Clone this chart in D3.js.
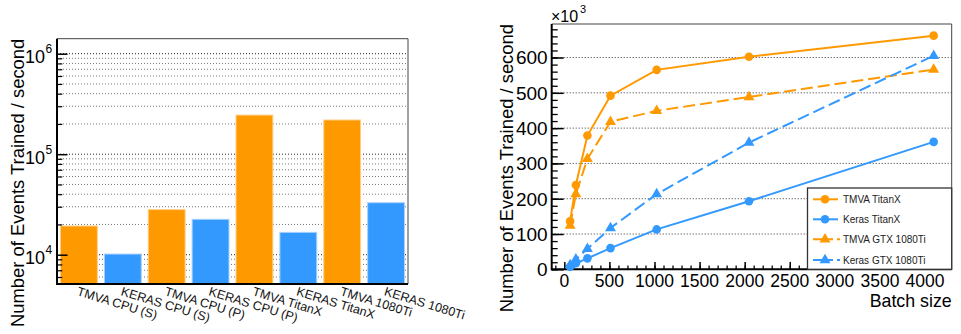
<!DOCTYPE html>
<html>
<head>
<meta charset="utf-8">
<script src="https://cdn.jsdelivr.net/npm/d3@7"></script>
<style>
  body { margin: 0; background: #fff; }
  svg { display: block; font-family: "Liberation Sans", Arial, Helvetica, sans-serif; }
  .domain { display: none; }
</style>
</head>
<body>
<div id="chart"></div>
<script>
// bar chart data (events / second)
let barCategories = ["TMVA CPU (S)", "KERAS CPU (S)", "TMVA CPU (P)", "KERAS CPU (P)",
                     "TMVA TitanX", "KERAS TitanX", "TMVA 1080Ti", "KERAS 1080Ti"];
let barValues = [19300, 10150, 28100, 22500, 245000, 16700, 219000, 32900];
let barColors = ["#ff9900", "#3399ff", "#ff9900", "#3399ff", "#ff9900", "#3399ff", "#ff9900", "#3399ff"];
let barDecades = [4, 5, 6];

// line chart data (x10^3 events / second)
let batchSizes = [64, 128, 256, 512, 1024, 2048, 4096];
let tmvaTitanX = [136, 239, 379, 492, 565, 602, 662];
let kerasTitanX = [7, 17, 31, 60, 113, 193, 361];
let tmvaGTX = [124, 213, 313, 418, 449, 488, 566];
let kerasGTX = [12, 28, 58, 117, 213, 359, 605];
let seriesNames = ["TMVA TitanX", "Keras TitanX", "TMVA GTX 1080Ti", "Keras GTX 1080Ti"];
let xTickValues = [0, 500, 1000, 1500, 2000, 2500, 3000, 3500, 4000];
let yTickValues = [0, 100, 200, 300, 400, 500, 600];

const orange = "#ff9900", blue = "#3399ff";

let svg = d3.select("#chart").append("svg")
    .attr("width", 961)
    .attr("height", 334);

// ---------------- left: log bar chart ----------------
let L = { left: 57, right: 408, top: 38.7, bottom: 284 };

let xb = d3.scaleBand()
    .domain(barCategories)
    .range([L.left, L.right])
    .paddingInner(0.16)
    .paddingOuter(0.08);

let yb = d3.scaleLog()
    .domain([5110, 1.41e6])
    .range([L.bottom, L.top]);

let gL = svg.append("g");

// grid at every 1..9 x decade
let logTicks = [];
for (let e = 3; e <= 6; e++) {
    for (let m = 1; m <= 9; m++) {
        let v = m * Math.pow(10, e);
        if (v >= 5110 && v <= 1.41e6) logTicks.push(v);
    }
}
let isDecade = d => barDecades.includes(Math.round(Math.log10(d) * 1000) / 1000);

gL.selectAll(".grid")
    .data(logTicks)
    .enter()
    .append("line")
    .attr("x1", L.left).attr("x2", L.right)
    .attr("y1", d => yb(d)).attr("y2", d => yb(d))
    .attr("stroke", d => isDecade(d) ? "#222" : "#777")
    .attr("stroke-width", 1)
    .attr("stroke-dasharray", "1,2");

// bars
gL.selectAll(".bar")
    .data(barValues)
    .enter()
    .append("rect")
    .attr("x", (d, i) => xb(barCategories[i]))
    .attr("width", xb.bandwidth())
    .attr("y", d => yb(d))
    .attr("height", d => L.bottom - yb(d))
    .attr("fill", (d, i) => barColors[i])
    .attr("stroke", (d, i) => i % 2 ? "#a9d2ff" : "#ffd08a")
    .attr("stroke-width", 1);

// y ticks (inward)
gL.append("g")
    .attr("transform", "translate(" + L.left + ",0)")
    .call(d3.axisLeft(yb).tickValues(logTicks.filter(d => !isDecade(d))).tickSize(-5.3).tickFormat(""))
    .selectAll("line").attr("stroke", "#000").attr("stroke-width", 1.2);
gL.append("g")
    .attr("transform", "translate(" + L.left + ",0)")
    .call(d3.axisLeft(yb).tickValues(barDecades.map(e => Math.pow(10, e))).tickSize(-10.5).tickFormat(""))
    .selectAll("line").attr("stroke", "#000").attr("stroke-width", 1.5);

// y labels 10^n
barDecades.forEach(function (e) {
    let yy = yb(Math.pow(10, e));
    gL.append("text")
        .attr("x", 45).attr("y", yy + 9.5)
        .attr("text-anchor", "end")
        .attr("font-size", 18)
        .text("10");
    gL.append("text")
        .attr("x", 45.5).attr("y", yy - 0.5)
        .attr("font-size", 12)
        .text(e);
});

// frame
gL.append("line").attr("x1", L.left).attr("x2", L.right).attr("y1", L.top).attr("y2", L.top)
    .attr("stroke", "#444").attr("stroke-width", 1);
gL.append("line").attr("x1", L.right).attr("x2", L.right).attr("y1", L.top).attr("y2", L.bottom)
    .attr("stroke", "#444").attr("stroke-width", 1);
gL.append("line").attr("x1", L.left).attr("x2", L.left).attr("y1", L.top).attr("y2", L.bottom + 1)
    .attr("stroke", "#000").attr("stroke-width", 2);
gL.append("line").attr("x1", L.left).attr("x2", L.right).attr("y1", L.bottom).attr("y2", L.bottom)
    .attr("stroke", "#000").attr("stroke-width", 2);

// rotated category labels
gL.selectAll(".xlab")
    .data(barCategories)
    .enter()
    .append("text")
    .attr("transform", d => "translate(" + (xb(d) + xb.bandwidth() / 2) + "," + (L.bottom + 2.5) + ") rotate(17)")
    .attr("dy", "0.72em")
    .attr("font-size", 12.5)
    .attr("fill", "#111")
    .text(d => d);

// y title
gL.append("text")
    .attr("transform", "translate(24," + L.top + ") rotate(-90)")
    .attr("text-anchor", "end")
    .attr("font-size", 18.4)
    .text("Number of Events Trained / second");

// ---------------- right: line chart ----------------
let R = { left: 551.7, right: 951.7, top: 24, bottom: 269.3 };

let x = d3.scaleLinear().domain([-140, 4296]).range([R.left, R.right]);
let y = d3.scaleLinear().domain([0, 695]).range([R.bottom, R.top]);

let gR = svg.append("g");

// grid
gR.selectAll(".grid")
    .data(yTickValues.slice(1))
    .enter()
    .append("line")
    .attr("x1", R.left).attr("x2", R.right)
    .attr("y1", d => y(d)).attr("y2", d => y(d))
    .attr("stroke", "#333")
    .attr("stroke-dasharray", "1,2");

// ticks
gR.append("g")
    .attr("transform", "translate(" + R.left + ",0)")
    .call(d3.axisLeft(y).tickValues(d3.range(0, 695, 20)).tickSize(-6).tickFormat(""))
    .selectAll("line").attr("stroke", "#000").attr("stroke-width", 1.3);
gR.append("g")
    .attr("transform", "translate(" + R.left + ",0)")
    .call(d3.axisLeft(y).tickValues(yTickValues).tickSize(-12).tickFormat(""))
    .selectAll("line").attr("stroke", "#000").attr("stroke-width", 1.5);
gR.append("g")
    .attr("transform", "translate(0," + R.bottom + ")")
    .call(d3.axisBottom(x).tickValues(d3.range(-100, 4296, 100)).tickSize(-3.7).tickFormat(""))
    .selectAll("line").attr("stroke", "#000").attr("stroke-width", 1.3);
gR.append("g")
    .attr("transform", "translate(0," + R.bottom + ")")
    .call(d3.axisBottom(x).tickValues(xTickValues).tickSize(-7.4).tickFormat(""))
    .selectAll("line").attr("stroke", "#000").attr("stroke-width", 1.5);

// tick labels
gR.selectAll(".ylab")
    .data(yTickValues)
    .enter()
    .append("text")
    .attr("x", R.left - 4)
    .attr("y", d => y(d))
    .attr("dy", "0.36em")
    .attr("text-anchor", "end")
    .attr("font-size", 19)
    .text(d => d);
gR.selectAll(".xlab")
    .data(xTickValues)
    .enter()
    .append("text")
    .attr("x", d => x(d))
    .attr("y", 287)
    .attr("text-anchor", "middle")
    .attr("font-size", 17.5)
    .text(d => d);

// x10^3 multiplier
gR.append("text").attr("x", 551).attr("y", 21.5).attr("font-size", 16).text("\u00d710");
gR.append("text").attr("x", 580).attr("y", 13).attr("font-size", 11).text("3");

// axis titles
gR.append("text")
    .attr("x", R.right).attr("y", 307)
    .attr("text-anchor", "end")
    .attr("font-size", 17.8)
    .text("Batch size");
gR.append("text")
    .attr("transform", "translate(513," + R.top + ") rotate(-90)")
    .attr("text-anchor", "end")
    .attr("font-size", 18.4)
    .text("Number of Events Trained / second");

// frame
gR.append("line").attr("x1", R.left).attr("x2", R.right).attr("y1", R.top).attr("y2", R.top)
    .attr("stroke", "#444").attr("stroke-width", 1);
gR.append("line").attr("x1", R.right).attr("x2", R.right).attr("y1", R.top).attr("y2", R.bottom)
    .attr("stroke", "#444").attr("stroke-width", 1);
gR.append("line").attr("x1", R.left).attr("x2", R.left).attr("y1", R.top).attr("y2", R.bottom + 1)
    .attr("stroke", "#000").attr("stroke-width", 2);
gR.append("line").attr("x1", R.left).attr("x2", R.right).attr("y1", R.bottom).attr("y2", R.bottom)
    .attr("stroke", "#000").attr("stroke-width", 2);

let series = [
    { name: seriesNames[0], values: tmvaTitanX, color: orange, dash: null, marker: "circle" },
    { name: seriesNames[1], values: kerasTitanX, color: blue, dash: null, marker: "circle" },
    { name: seriesNames[2], values: tmvaGTX, color: orange, dash: "12,5", marker: "triangle" },
    { name: seriesNames[3], values: kerasGTX, color: blue, dash: "12,5", marker: "triangle" }
];

let line = d3.line()
    .x((d, i) => x(batchSizes[i]))
    .y(d => y(d));

let circleSym = d3.symbol().type(d3.symbolCircle).size(58);
let triSym = d3.symbol().type(d3.symbolTriangle).size(52);

// draw in legend order
series.forEach(function (s) {
    gR.append("path")
        .datum(s.values)
        .attr("fill", "none")
        .attr("stroke", s.color)
        .attr("stroke-width", 2)
        .attr("stroke-dasharray", s.dash)
        .attr("d", line);
    gR.selectAll(null)
        .data(s.values)
        .enter()
        .append("path")
        .attr("transform", (d, i) => "translate(" + x(batchSizes[i]) + "," + y(d) + ")")
        .attr("d", s.marker === "circle" ? circleSym : triSym)
        .attr("fill", s.color);
});

// legend
let lg = gR.append("g");
lg.append("rect")
    .attr("x", 807.5).attr("y", 188)
    .attr("width", R.right - 807.5).attr("height", R.bottom - 188)
    .attr("fill", "#fff")
    .attr("stroke", "#333")
    .attr("stroke-width", 1.3);
let legendY = [199.3, 219.3, 239.3, 260];
series.forEach(function (s, i) {
    lg.append("line")
        .attr("x1", 813).attr("x2", s.dash ? 840 : 838)
        .attr("y1", legendY[i]).attr("y2", legendY[i])
        .attr("stroke", s.color)
        .attr("stroke-width", 2)
        .attr("stroke-dasharray", s.dash ? "20,4" : null);
    lg.append("path")
        .attr("transform", "translate(825," + legendY[i] + ")")
        .attr("d", s.marker === "circle" ? circleSym : triSym)
        .attr("fill", s.color);
    lg.append("text")
        .attr("x", 843).attr("y", legendY[i])
        .attr("dy", "0.36em")
        .attr("font-size", 10)
        .attr("fill", "#222")
        .text(s.name);
});
</script>
</body>
</html>
